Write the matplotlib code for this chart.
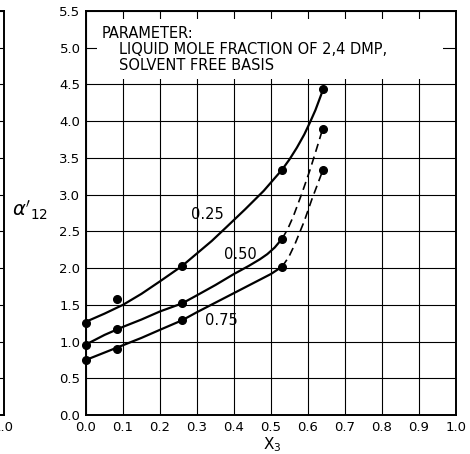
import numpy as np
import matplotlib
matplotlib.use("Agg")
import matplotlib.pyplot as plt
from matplotlib.patches import Rectangle

# measured points (x3, alpha'12) for each liquid mole fraction of 2,4 DMP
x_pts = [0.0, 0.083, 0.26, 0.53, 0.64]
pts_025 = [1.25, 1.58, 2.03, 3.33, 4.44]
pts_050 = [0.95, 1.17, 1.52, 2.40, 3.90]
pts_075 = [0.75, 0.90, 1.29, 2.02, 3.33]

# hand-drawn curves
c025_x = [0.0, 0.05, 0.1, 0.15, 0.2, 0.26, 0.3, 0.34, 0.38, 0.43, 0.48, 0.53,
          0.55, 0.57, 0.59, 0.605, 0.62, 0.64]
c025_y = [1.27, 1.38, 1.50, 1.65, 1.82, 2.03, 2.20, 2.37, 2.56, 2.80, 3.05, 3.34,
          3.48, 3.64, 3.82, 3.98, 4.15, 4.42]

c050_x = [0.0, 0.05, 0.1, 0.15, 0.2, 0.26, 0.3, 0.35, 0.4, 0.44, 0.47, 0.49, 0.51, 0.53]
c050_y = [0.96, 1.09, 1.20, 1.30, 1.41, 1.52, 1.63, 1.77, 1.92, 2.03, 2.12, 2.19, 2.28, 2.40]
d050_x = [0.53, 0.545, 0.56, 0.583, 0.605, 0.623, 0.64]
d050_y = [2.40, 2.53, 2.70, 3.01, 3.33, 3.62, 3.90]

c075_x = [0.0, 0.05, 0.1, 0.15, 0.2, 0.26, 0.3, 0.35, 0.4, 0.45, 0.5, 0.53]
c075_y = [0.75, 0.85, 0.95, 1.05, 1.16, 1.29, 1.40, 1.53, 1.66, 1.79, 1.92, 2.02]
d075_x = [0.53, 0.548, 0.565, 0.59, 0.61, 0.628, 0.64]
d075_y = [2.02, 2.15, 2.33, 2.64, 2.93, 3.17, 3.33]

curve_labels = ["0.25", "0.50", "0.75"]
label_pos = [(0.327, 2.73), (0.416, 2.19), (0.367, 1.29)]

x_ticks = [0.0, 0.1, 0.2, 0.3, 0.4, 0.5, 0.6, 0.7, 0.8, 0.9, 1.0]
y_ticks = [0.0, 0.5, 1.0, 1.5, 2.0, 2.5, 3.0, 3.5, 4.0, 4.5, 5.0, 5.5]
x_ticklabels = ["0.0", "0.1", "0.2", "0.3", "0.4", "0.5", "0.6", "0.7", "0.8", "0.9", "1.0"]
y_ticklabels = ["0.0", "0.5", "1.0", "1.5", "2.0", "2.5", "3.0", "3.5", "4.0", "4.5", "5.0", "5.5"]

plt.rcParams['font.family'] = ['DejaVu Sans']

fig = plt.figure(figsize=(4.7, 4.54), dpi=100)
bottom, height = 39 / 454, 404 / 454

# right edge of the neighbouring panel (cut off at the left)
axl = fig.add_axes([-0.7, bottom, 0.7 + 3.5 / 470, height])
axl.set_xlim(0, 1)
axl.set_ylim(0, 5.5)
axl.set_xticks([1.0])
axl.set_xticklabels(["1.0"], fontsize=9.5)
axl.set_yticks(y_ticks)
axl.set_yticklabels([])
axl.tick_params(length=0, pad=4)
axl.grid(True, axis='y', color='black', linewidth=0.8)
for s in axl.spines.values():
    s.set_linewidth(1.4)

ax = fig.add_axes([86 / 470, bottom, 370 / 470, height])
ax.set_xlim(0, 1)
ax.set_ylim(0, 5.5)
ax.set_xticks(x_ticks)
ax.set_xticklabels(x_ticklabels, fontsize=9.5)
ax.set_yticks(y_ticks)
ax.set_yticklabels(y_ticklabels, fontsize=9.5)
ax.tick_params(length=0, pad=4)
ax.set_axisbelow(True)
ax.grid(True, color='black', linewidth=0.8)
for s in ax.spines.values():
    s.set_linewidth(1.4)

# blank area behind the parameter note
ax.add_patch(Rectangle((0.03, 4.58), 0.935, 0.81, facecolor='white',
                       edgecolor='none', zorder=1))
ax.text(0.043, 5.20, "PARAMETER:", fontsize=10.5, va='center', ha='left', zorder=3)
ax.text(0.089, 4.98, "LIQUID MOLE FRACTION OF 2,4 DMP,", fontsize=10.5,
        va='center', ha='left', zorder=3)
ax.text(0.089, 4.76, "SOLVENT FREE BASIS", fontsize=10.5, va='center', ha='left', zorder=3)

lw = 1.6
ax.plot(c025_x, c025_y, color='black', linewidth=lw, zorder=3)
ax.plot(c050_x, c050_y, color='black', linewidth=lw, zorder=3)
ax.plot(d050_x, d050_y, color='black', linewidth=1.2, dashes=(5, 3), zorder=3)
ax.plot(c075_x, c075_y, color='black', linewidth=lw, zorder=3)
ax.plot(d075_x, d075_y, color='black', linewidth=1.2, dashes=(5, 3), zorder=3)

for ys in (pts_025, pts_050, pts_075):
    ax.plot(x_pts, ys, 'o', color='black', markersize=5.5, zorder=4, clip_on=False)

for lab, (lx, ly) in zip(curve_labels, label_pos):
    ax.text(lx, ly, lab, fontsize=10.5, ha='center', va='center', zorder=3)

fig.text(30 / 470, 1 - 210 / 454, r"$\alpha'_{12}$", fontsize=14, ha='center', va='center')
fig.text(272 / 470, 1 - 445 / 454, r"X$_3$", fontsize=11, ha='center', va='center')

plt.savefig('out.png', dpi=100)
plt.close()
